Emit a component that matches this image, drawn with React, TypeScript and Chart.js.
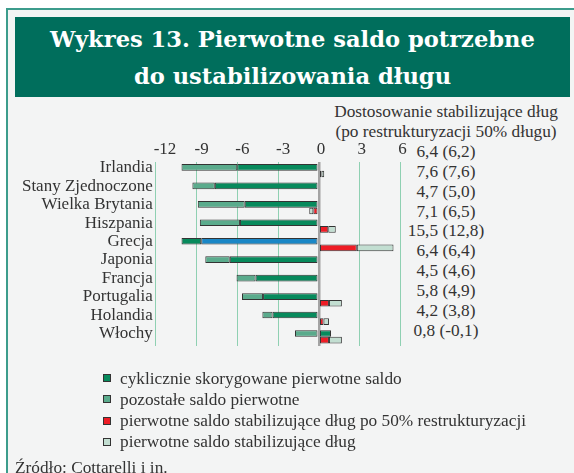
import React, { useEffect, useRef } from "react";
import { Chart, registerables } from "chart.js";

Chart.register(...registerables);

const categories = [
  "Irlandia",
  "Stany Zjednoczone",
  "Wielka Brytania",
  "Hiszpania",
  "Grecja",
  "Japonia",
  "Francja",
  "Portugalia",
  "Holandia",
  "Włochy",
];

const cyclicBalance = [-6.0, -7.65, -5.45, -5.8, -8.65, -6.55, -4.65, -4.1, -3.4, 0.9];
const otherBalance = [-4.1, -1.65, -3.45, -2.95, -1.45, -1.8, -1.4, -1.55, -0.75, -1.75];
const stabilizingAfter50 = [0.2, 0, -0.4, 0.7, 2.8, 0, 0, 0.75, 0.35, 0.75];
const stabilizing = [0.2, 0, -0.3, 0.55, 2.7, -0.1, -0.1, 0.95, 0.4, 0.95];

const adjustmentLabels = [
  "6,4 (6,2)",
  "7,6 (7,6)",
  "4,7 (5,0)",
  "7,1 (6,5)",
  "15,5 (12,8)",
  "6,4 (6,4)",
  "4,5 (4,6)",
  "5,8 (4,9)",
  "4,2 (3,8)",
  "0,8 (-0,1)",
];

const seriesNames = [
  "cyklicznie skorygowane pierwotne saldo",
  "pozostałe saldo pierwotne",
  "pierwotne saldo stabilizujące dług po 50% restrukturyzacji",
  "pierwotne saldo stabilizujące dług",
];

const xMin = -12;
const xMax = 6;
const xStep = 3;

const DARK = "#078a5c";
const MID = "#5aab8c";
const RED = "#ee1c25";
const LIGHT = "#c2ded1";
const BLUE = "#1a87c6";
const seriesColors = [DARK, MID, RED, LIGHT];
const specialIndex = categories.indexOf("Grecja");

const TEXT = "#333333";
const FONT = "'Liberation Serif', 'Times New Roman', serif";

export default function App() {
  const canvasRef = useRef<HTMLCanvasElement | null>(null);

  useEffect(() => {
    const canvas = canvasRef.current;
    if (!canvas) return;
    const cyclicColors = categories.map((_, i) => (i === specialIndex ? BLUE : DARK));
    const otherColors = categories.map((_, i) => (i === specialIndex ? DARK : MID));
    const common = {
      borderColor: "#333333",
      borderWidth: 1,
      borderSkipped: false as const,
      categoryPercentage: 0.72,
      barPercentage: 1.0,
    };
    const chart = new Chart(canvas, {
      type: "bar",
      data: {
        labels: categories,
        datasets: [
          { label: seriesNames[0], data: cyclicBalance, backgroundColor: cyclicColors, stack: "a", ...common },
          { label: seriesNames[1], data: otherBalance, backgroundColor: otherColors, stack: "a", ...common },
          { label: seriesNames[2], data: stabilizingAfter50, backgroundColor: RED, stack: "b", ...common },
          { label: seriesNames[3], data: stabilizing, backgroundColor: LIGHT, stack: "b", ...common },
        ],
      },
      options: {
        indexAxis: "y",
        responsive: false,
        animation: false,
        devicePixelRatio: 1,
        layout: { padding: { left: 0, top: 0, right: 574 - 400.3, bottom: 473 - 346 } },
        plugins: { legend: { display: false }, tooltip: { enabled: false } },
        scales: {
          x: {
            type: "linear",
            position: "top",
            stacked: true,
            min: xMin,
            max: xMax,
            afterFit: (scale: any) => {
              scale.height = 161.5;
            },
            ticks: {
              stepSize: xStep,
              align: "start",
              labelOffset: -2,
              padding: 2,
              autoSkip: false,
              color: TEXT,
              font: { family: FONT, size: 17 },
            },
            border: { display: false },
            grid: {
              drawTicks: false,
              color: (ctx: any) => (ctx.tick && ctx.tick.value === 0 ? "#a3a3a3" : "#8fd0b2"),
              lineWidth: (ctx: any) => (ctx.tick && ctx.tick.value === 0 ? 2.5 : 1),
            },
          },
          y: {
            position: "left",
            afterFit: (scale: any) => {
              scale.width = 155.7;
            },
            ticks: {
              padding: 3,
              labelOffset: -3,
              autoSkip: false,
              color: TEXT,
              font: { family: FONT, size: 17 },
            },
            border: { display: false },
            grid: { display: false, drawTicks: false },
          },
        },
      },
    });
    return () => chart.destroy();
  }, []);

  const textLines = ["Dostosowanie stabilizujące dług", "(po restrukturyzacji 50% długu)", ...adjustmentLabels];

  return (
    <div
      style={{
        position: "fixed",
        left: 0,
        top: 0,
        width: 574,
        height: 473,
        background: "#ffffff",
        overflow: "hidden",
        fontFamily: FONT,
        color: TEXT,
      }}
    >
      <div
        style={{
          position: "absolute",
          left: 6,
          top: 8,
          width: 600,
          height: 500,
          background: "#f3f4f4",
          borderLeft: "2px solid #3c9c8c",
          borderTop: "2px solid #3c9c8c",
        }}
      />
      <div
        style={{
          position: "absolute",
          left: 15,
          top: 17,
          width: 555,
          height: 80,
          background: "#006e5c",
        }}
      />
      <div
        style={{
          position: "absolute",
          left: 15,
          top: 20.5,
          width: 555,
          textAlign: "center",
          color: "#ffffff",
          fontFamily: "'DejaVu Serif', serif",
          fontWeight: "bold",
          fontSize: 22.6,
          lineHeight: "37px",
          whiteSpace: "nowrap",
        }}
      >
        <div>Wykres 13. Pierwotne saldo potrzebne</div>
        <div>do ustabilizowania długu</div>
      </div>
      <div
        style={{
          position: "absolute",
          left: 326,
          top: 102,
          width: 240,
          textAlign: "center",
          fontSize: 17.3,
          lineHeight: "19.9px",
          whiteSpace: "nowrap",
        }}
      >
        {textLines.map((t, i) => (
          <div key={i}>{t}</div>
        ))}
      </div>
      <canvas
        ref={canvasRef}
        width={574}
        height={473}
        style={{ position: "absolute", left: 0, top: 0, width: 574, height: 473 }}
      />
      <div style={{ position: "absolute", left: 103, top: 367.5, fontSize: 17.3, lineHeight: "21.3px", whiteSpace: "nowrap" }}>
        {seriesNames.map((name, i) => (
          <div key={i} style={{ display: "flex", alignItems: "center" }}>
            <span
              style={{
                display: "inline-block",
                width: 6,
                height: 6,
                background: seriesColors[i],
                border: "1px solid #333",
                marginRight: 9,
              }}
            />
            <span>{name}</span>
          </div>
        ))}
      </div>
      <div style={{ position: "absolute", left: 15, top: 457, fontSize: 17.3, lineHeight: "21px", whiteSpace: "nowrap" }}>
        Źródło: Cottarelli i in.
      </div>
    </div>
  );
}
